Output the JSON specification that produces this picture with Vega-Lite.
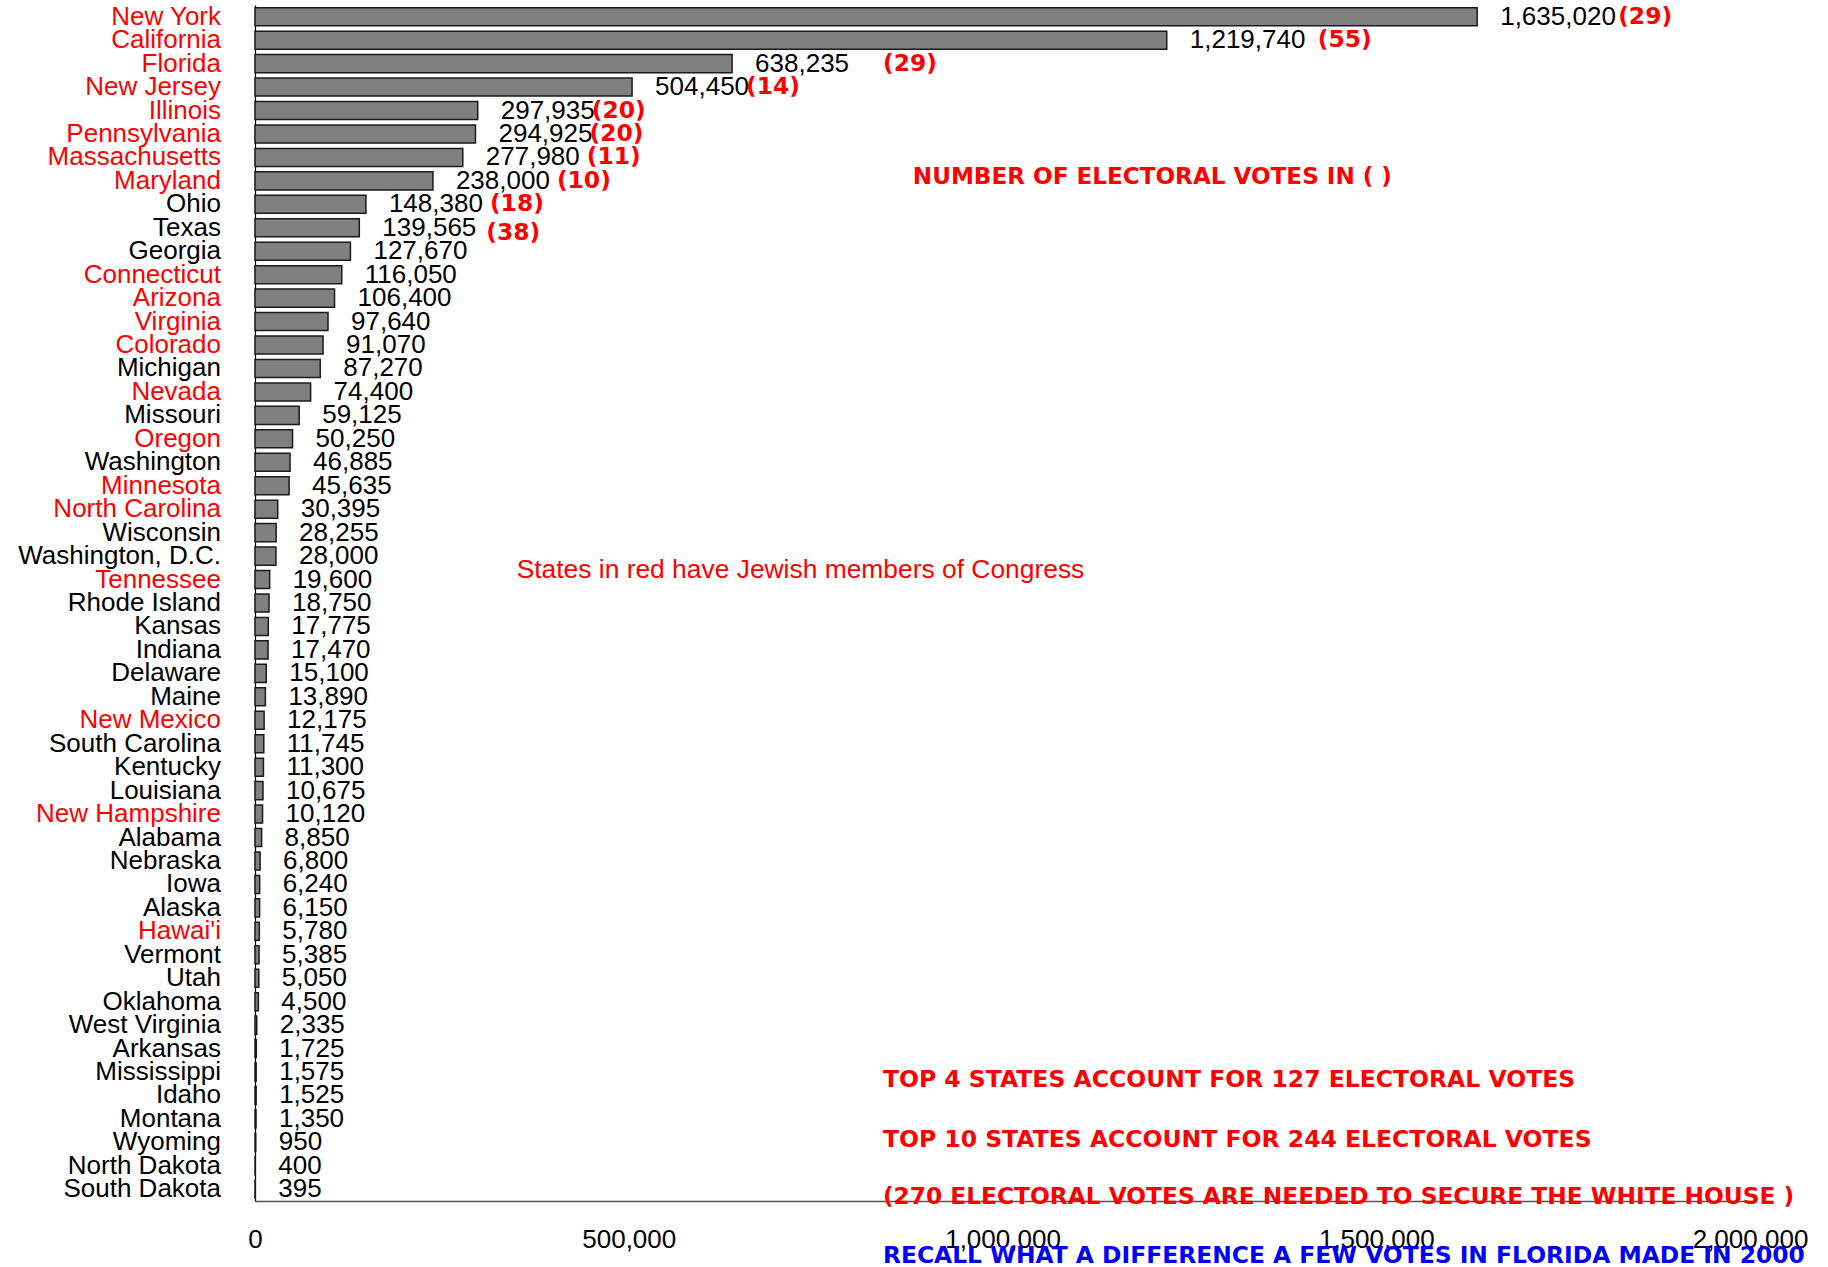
{
  "$schema": "https://vega.github.io/schema/vega-lite/v6.json",
  "width": 1495,
  "height": 1196,
  "autosize": {"type": "none"},
  "padding": {"left": 255, "top": 5, "right": 78, "bottom": 66},
  "background": "white",
  "config": {"view": {"stroke": null}, "font": "Liberation Sans"},
  "data": {
    "values": [
      {"state": "New York", "votes": 1635020, "ev": 29, "member": "yes"},
      {"state": "California", "votes": 1219740, "ev": 55, "member": "yes"},
      {"state": "Florida", "votes": 638235, "ev": 29, "member": "yes"},
      {"state": "New Jersey", "votes": 504450, "ev": 14, "member": "yes"},
      {"state": "Illinois", "votes": 297935, "ev": 20, "member": "yes"},
      {"state": "Pennsylvania", "votes": 294925, "ev": 20, "member": "yes"},
      {"state": "Massachusetts", "votes": 277980, "ev": 11, "member": "yes"},
      {"state": "Maryland", "votes": 238000, "ev": 10, "member": "yes"},
      {"state": "Ohio", "votes": 148380, "ev": 18, "member": "no"},
      {"state": "Texas", "votes": 139565, "ev": 38, "member": "no"},
      {"state": "Georgia", "votes": 127670, "member": "no"},
      {"state": "Connecticut", "votes": 116050, "member": "yes"},
      {"state": "Arizona", "votes": 106400, "member": "yes"},
      {"state": "Virginia", "votes": 97640, "member": "yes"},
      {"state": "Colorado", "votes": 91070, "member": "yes"},
      {"state": "Michigan", "votes": 87270, "member": "no"},
      {"state": "Nevada", "votes": 74400, "member": "yes"},
      {"state": "Missouri", "votes": 59125, "member": "no"},
      {"state": "Oregon", "votes": 50250, "member": "yes"},
      {"state": "Washington", "votes": 46885, "member": "no"},
      {"state": "Minnesota", "votes": 45635, "member": "yes"},
      {"state": "North Carolina", "votes": 30395, "member": "yes"},
      {"state": "Wisconsin", "votes": 28255, "member": "no"},
      {"state": "Washington, D.C.", "votes": 28000, "member": "no"},
      {"state": "Tennessee", "votes": 19600, "member": "yes"},
      {"state": "Rhode Island", "votes": 18750, "member": "no"},
      {"state": "Kansas", "votes": 17775, "member": "no"},
      {"state": "Indiana", "votes": 17470, "member": "no"},
      {"state": "Delaware", "votes": 15100, "member": "no"},
      {"state": "Maine", "votes": 13890, "member": "no"},
      {"state": "New Mexico", "votes": 12175, "member": "yes"},
      {"state": "South Carolina", "votes": 11745, "member": "no"},
      {"state": "Kentucky", "votes": 11300, "member": "no"},
      {"state": "Louisiana", "votes": 10675, "member": "no"},
      {"state": "New Hampshire", "votes": 10120, "member": "yes"},
      {"state": "Alabama", "votes": 8850, "member": "no"},
      {"state": "Nebraska", "votes": 6800, "member": "no"},
      {"state": "Iowa", "votes": 6240, "member": "no"},
      {"state": "Alaska", "votes": 6150, "member": "no"},
      {"state": "Hawai'i", "votes": 5780, "member": "yes"},
      {"state": "Vermont", "votes": 5385, "member": "no"},
      {"state": "Utah", "votes": 5050, "member": "no"},
      {"state": "Oklahoma", "votes": 4500, "member": "no"},
      {"state": "West Virginia", "votes": 2335, "member": "no"},
      {"state": "Arkansas", "votes": 1725, "member": "no"},
      {"state": "Mississippi", "votes": 1575, "member": "no"},
      {"state": "Idaho", "votes": 1525, "member": "no"},
      {"state": "Montana", "votes": 1350, "member": "no"},
      {"state": "Wyoming", "votes": 950, "member": "no"},
      {"state": "North Dakota", "votes": 400, "member": "no"},
      {"state": "South Dakota", "votes": 395, "member": "no"}
    ]
  },
  "encoding": {
    "y": {
      "field": "state",
      "type": "nominal",
      "sort": null,
      "scale": {
        "domain": ["New York", "California", "Florida", "New Jersey", "Illinois", "Pennsylvania", "Massachusetts", "Maryland", "Ohio", "Texas", "Georgia", "Connecticut", "Arizona", "Virginia", "Colorado", "Michigan", "Nevada", "Missouri", "Oregon", "Washington", "Minnesota", "North Carolina", "Wisconsin", "Washington, D.C.", "Tennessee", "Rhode Island", "Kansas", "Indiana", "Delaware", "Maine", "New Mexico", "South Carolina", "Kentucky", "Louisiana", "New Hampshire", "Alabama", "Nebraska", "Iowa", "Alaska", "Hawai'i", "Vermont", "Utah", "Oklahoma", "West Virginia", "Arkansas", "Mississippi", "Idaho", "Montana", "Wyoming", "North Dakota", "South Dakota"],
        "paddingInner": 0.23,
        "paddingOuter": 0.115
      },
      "axis": {"labels": false, "ticks": false, "title": null, "grid": false, "domainColor": "#000000", "domainWidth": 1.2}
    }
  },
  "layer": [
    {
      "mark": {"type": "bar", "fill": "#808080", "stroke": "#1a1a1a", "strokeWidth": 1.5},
      "encoding": {
        "x": {
          "field": "votes",
          "type": "quantitative",
          "scale": {"domain": [0, 2000000], "nice": false, "zero": true},
          "axis": {
            "values": [0, 500000, 1000000, 1500000, 2000000],
            "format": ",d",
            "labelFontSize": 26,
            "labelFont": "Liberation Sans",
            "labelColor": "#000000",
            "ticks": false,
            "grid": false,
            "title": null,
            "domainColor": "#555555",
            "domainWidth": 1.5,
            "labelPadding": 25,
            "labelFlush": false,
            "labelOverlap": false,
            "labelBaseline": "top"
          }
        }
      }
    },
    {
      "mark": {"type": "text", "align": "left", "baseline": "middle", "dx": 23, "fontSize": 26, "font": "Liberation Sans", "color": "#000000"},
      "encoding": {
        "x": {"field": "votes", "type": "quantitative"},
        "text": {"field": "votes", "type": "quantitative", "format": ",d"}
      }
    },
    {
      "mark": {"type": "text", "align": "right", "baseline": "middle", "dx": -34, "fontSize": 26, "font": "Liberation Sans"},
      "encoding": {
        "x": {"datum": 0, "type": "quantitative"},
        "text": {"field": "state", "type": "nominal"},
        "color": {"field": "member", "type": "nominal", "scale": {"domain": ["yes", "no"], "range": ["#ff0000", "#000000"]}, "legend": null}
      }
    },
    {
      "transform": [{"filter": {"field": "state", "oneOf": ["New York"]}}, {"calculate": "'(' + datum.ev + ')'", "as": "evLabel"}],
      "mark": {"type": "text", "align": "left", "baseline": "middle", "dx": 141, "fontSize": 23.4, "font": "DejaVu Sans", "fontWeight": "bold", "color": "#ff0000"},
      "encoding": {"x": {"field": "votes", "type": "quantitative"}, "text": {"field": "evLabel", "type": "nominal"}}
    },
    {
      "transform": [{"filter": {"field": "state", "oneOf": ["California", "Florida"]}}, {"calculate": "'(' + datum.ev + ')'", "as": "evLabel"}],
      "mark": {"type": "text", "align": "left", "baseline": "middle", "dx": 151, "fontSize": 23.4, "font": "DejaVu Sans", "fontWeight": "bold", "color": "#ff0000"},
      "encoding": {"x": {"field": "votes", "type": "quantitative"}, "text": {"field": "evLabel", "type": "nominal"}}
    },
    {
      "transform": [{"filter": {"field": "state", "oneOf": ["New Jersey", "Illinois", "Pennsylvania"]}}, {"calculate": "'(' + datum.ev + ')'", "as": "evLabel"}],
      "mark": {"type": "text", "align": "left", "baseline": "middle", "dx": 114, "fontSize": 23.4, "font": "DejaVu Sans", "fontWeight": "bold", "color": "#ff0000"},
      "encoding": {"x": {"field": "votes", "type": "quantitative"}, "text": {"field": "evLabel", "type": "nominal"}}
    },
    {
      "transform": [{"filter": {"field": "state", "oneOf": ["Massachusetts", "Maryland", "Ohio"]}}, {"calculate": "'(' + datum.ev + ')'", "as": "evLabel"}],
      "mark": {"type": "text", "align": "left", "baseline": "middle", "dx": 124, "fontSize": 23.4, "font": "DejaVu Sans", "fontWeight": "bold", "color": "#ff0000"},
      "encoding": {"x": {"field": "votes", "type": "quantitative"}, "text": {"field": "evLabel", "type": "nominal"}}
    },
    {
      "transform": [{"filter": {"field": "state", "oneOf": ["Texas"]}}, {"calculate": "'(' + datum.ev + ')'", "as": "evLabel"}],
      "mark": {"type": "text", "align": "left", "baseline": "middle", "dx": 127, "dy": 5, "fontSize": 23.4, "font": "DejaVu Sans", "fontWeight": "bold", "color": "#ff0000"},
      "encoding": {"x": {"field": "votes", "type": "quantitative"}, "text": {"field": "evLabel", "type": "nominal"}}
    },
    {
      "data": {"values": [{"note": "NUMBER OF ELECTORAL VOTES IN ( )"}]},
      "mark": {"type": "text", "align": "left", "baseline": "middle", "dy": -4, "fontSize": 23.1, "font": "DejaVu Sans", "fontWeight": "bold", "color": "#ff0000"},
      "encoding": {"x": {"datum": 880000, "type": "quantitative"}, "y": {"datum": "Maryland", "type": "nominal"}, "text": {"field": "note", "type": "nominal"}}
    },
    {
      "data": {"values": [{"note": "States in red have Jewish members of Congress"}]},
      "mark": {"type": "text", "align": "left", "baseline": "middle", "dy": 14, "fontSize": 26.4, "font": "Liberation Sans", "color": "#ff0000"},
      "encoding": {"x": {"datum": 350000, "type": "quantitative"}, "y": {"datum": "Washington, D.C.", "type": "nominal"}, "text": {"field": "note", "type": "nominal"}}
    },
    {
      "data": {"values": [{"note": "TOP 4 STATES ACCOUNT FOR 127 ELECTORAL VOTES"}]},
      "mark": {"type": "text", "align": "left", "baseline": "middle", "dy": 8, "fontSize": 23.5, "font": "DejaVu Sans", "fontWeight": "bold", "color": "#ff0000"},
      "encoding": {"x": {"datum": 840000, "type": "quantitative"}, "y": {"datum": "Mississippi", "type": "nominal"}, "text": {"field": "note", "type": "nominal"}}
    },
    {
      "data": {"values": [{"note": "TOP 10 STATES ACCOUNT FOR 244 ELECTORAL VOTES"}]},
      "mark": {"type": "text", "align": "left", "baseline": "middle", "dy": -2, "fontSize": 23.5, "font": "DejaVu Sans", "fontWeight": "bold", "color": "#ff0000"},
      "encoding": {"x": {"datum": 840000, "type": "quantitative"}, "y": {"datum": "Wyoming", "type": "nominal"}, "text": {"field": "note", "type": "nominal"}}
    },
    {
      "data": {"values": [{"note": "(270 ELECTORAL VOTES ARE NEEDED TO SECURE THE WHITE HOUSE )"}]},
      "mark": {"type": "text", "align": "left", "baseline": "middle", "dy": 8, "fontSize": 23.3, "font": "DejaVu Sans", "fontWeight": "bold", "color": "#ff0000"},
      "encoding": {"x": {"datum": 840000, "type": "quantitative"}, "y": {"datum": "South Dakota", "type": "nominal"}, "text": {"field": "note", "type": "nominal"}}
    },
    {
      "data": {"values": [{"note": "RECALL WHAT A DIFFERENCE A FEW VOTES IN FLORIDA MADE IN 2000"}]},
      "mark": {"type": "text", "align": "left", "baseline": "middle", "dy": 67, "fontSize": 23.4, "font": "DejaVu Sans", "fontWeight": "bold", "color": "#0000ff"},
      "encoding": {"x": {"datum": 840000, "type": "quantitative"}, "y": {"datum": "South Dakota", "type": "nominal"}, "text": {"field": "note", "type": "nominal"}}
    }
  ]
}
